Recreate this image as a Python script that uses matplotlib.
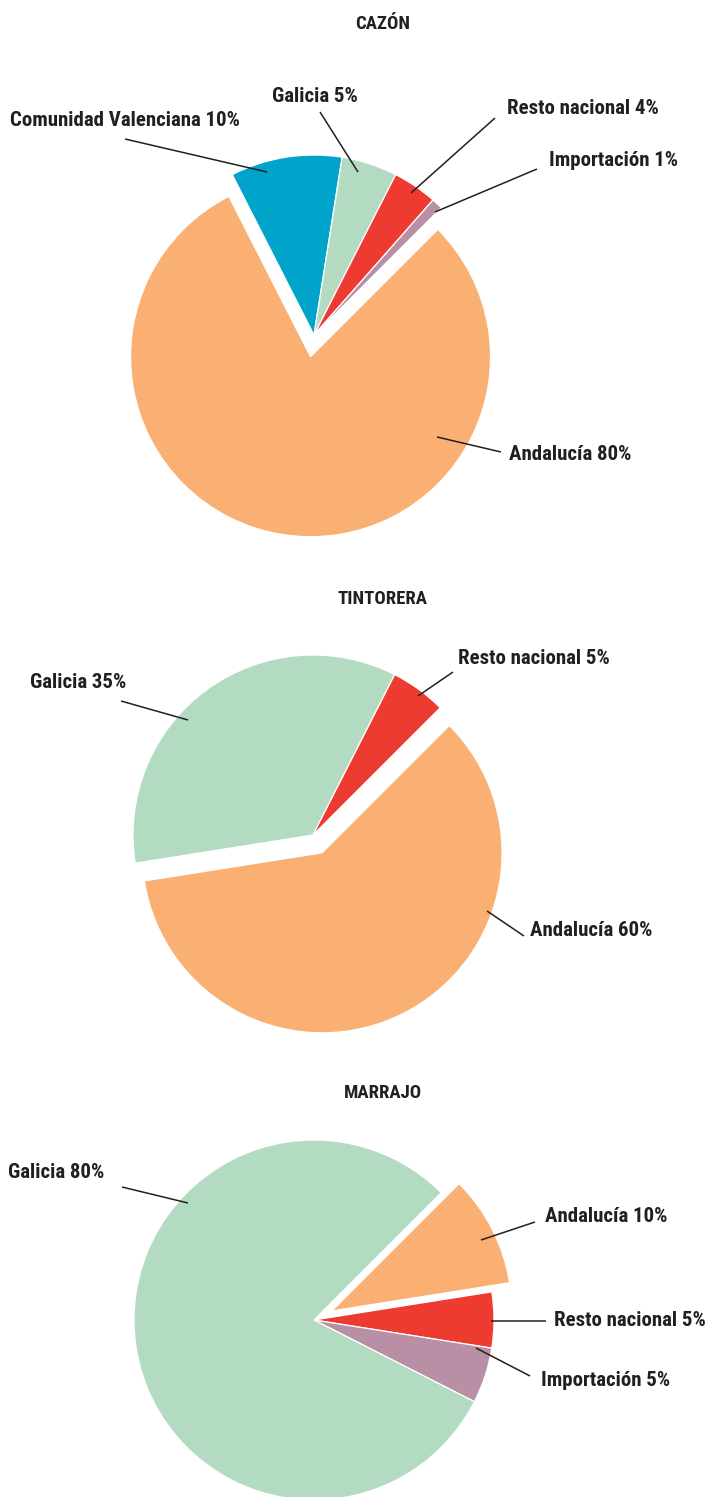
import matplotlib
matplotlib.use("Agg")
import matplotlib.pyplot as plt
from matplotlib import font_manager as fm

W, H = 709, 1497

# ---------------- data ----------------
cazon_labels = ["Comunidad Valenciana", "Galicia", "Resto nacional", "Importación", "Andalucía"]
cazon_values = [10, 5, 4, 1, 80]

tintorera_labels = ["Galicia", "Resto nacional", "Andalucía"]
tintorera_values = [35, 5, 60]

marrajo_labels = ["Andalucía", "Resto nacional", "Importación", "Galicia"]
marrajo_values = [10, 5, 5, 80]

titles = ["CAZÓN", "TINTORERA", "MARRAJO"]

# ---------------- style ----------------
COL = {
    "Andalucía": "#F9B072",
    "Comunidad Valenciana": "#00A3C9",
    "Galicia": "#B3DBC2",
    "Resto nacional": "#EE3B32",
    "Importación": "#B98FA6",
}
TXT = "#231F20"

# pick the narrowest bold font that is installed
names = {(f.name, f.stretch if isinstance(f.stretch, str) else str(f.stretch)) for f in fm.fontManager.ttflist}
fam_names = {n for n, s in names}
STRETCH = "normal"
if "Roboto Condensed" in fam_names:
    FONT = ["Roboto Condensed", "DejaVu Sans"]
elif "Liberation Sans Narrow" in fam_names:
    FONT = ["Liberation Sans Narrow", "DejaVu Sans"]
elif ("DejaVu Sans", "condensed") in names:
    FONT = ["DejaVu Sans"]
    STRETCH = "condensed"
else:
    FONT = ["Roboto", "DejaVu Sans"]

fig = plt.figure(figsize=(W / 100, H / 100), dpi=100)
ax = fig.add_axes([0, 0, 1, 1])


def Y(y):
    return H - y


R = 180

pies = [
    dict(labels=cazon_labels, values=cazon_values, center=(314, 335), start=117,
         explode={"Andalucía": 22}, title=(383, 24),
         ann={  # text (left x, center y), line outer point, line inner point
             "Comunidad Valenciana": ((10, 121), (125, 139), (267, 172)),
             "Galicia": ((272, 96), (320, 112), (358, 172)),
             "Resto nacional": ((507, 109), (495, 118), (411, 193)),
             "Importación": ((549, 160), (537, 169), (435, 212)),
             "Andalucía": ((509, 454), (501, 452), (437, 437)),
         }),
    dict(labels=tintorera_labels, values=tintorera_values, center=(313, 835), start=189,
         explode={"Andalucía": 20}, title=(383, 599),
         ann={
             "Galicia": ((30, 682), (121, 701), (188, 720)),
             "Resto nacional": ((458, 659), (453, 672), (418, 696)),
             "Andalucía": ((530, 931), (524, 936), (487, 911)),
         }),
    dict(labels=marrajo_labels, values=marrajo_values, center=(314, 1320), start=45,
         explode={"Andalucía": 20}, title=(383, 1093),
         ann={
             "Galicia": ((8, 1172), (122, 1187), (188, 1203)),
             "Andalucía": ((545, 1217), (535, 1222), (481, 1240)),
             "Resto nacional": ((554, 1321), (546, 1321), (491, 1321)),
             "Importación": ((541, 1380), (530, 1376), (476, 1348)),
         }),
]

LABEL_SIZE = 15
TITLE_SIZE = 13.5

for p, title in zip(pies, titles):
    cx, cy = p["center"]
    ax.pie(p["values"], colors=[COL[l] for l in p["labels"]],
           explode=[p["explode"].get(l, 0) for l in p["labels"]],
           startangle=p["start"], counterclock=False,
           center=(cx, Y(cy)), radius=R,
           wedgeprops=dict(edgecolor="white", linewidth=0.9))
    tx, ty = p["title"]
    ax.text(tx, Y(ty), title, ha="center", va="center", fontsize=TITLE_SIZE,
            fontweight="bold", color=TXT, family=FONT, fontstretch=STRETCH)
    for lab, val in zip(p["labels"], p["values"]):
        (lx, ly), (ox, oy), (ix, iy) = p["ann"][lab]
        ax.text(lx, Y(ly), f"{lab} {val}%", ha="left", va="center",
                fontsize=LABEL_SIZE, fontweight="bold", color=TXT, family=FONT,
                fontstretch=STRETCH)
        ax.plot([ox, ix], [Y(oy), Y(iy)], color=TXT, lw=1.1, solid_capstyle="butt")

ax.set_xlim(0, W)
ax.set_ylim(0, H)
ax.set_aspect("auto")
ax.axis("off")

fig.savefig("out.png", dpi=100, facecolor="white")
